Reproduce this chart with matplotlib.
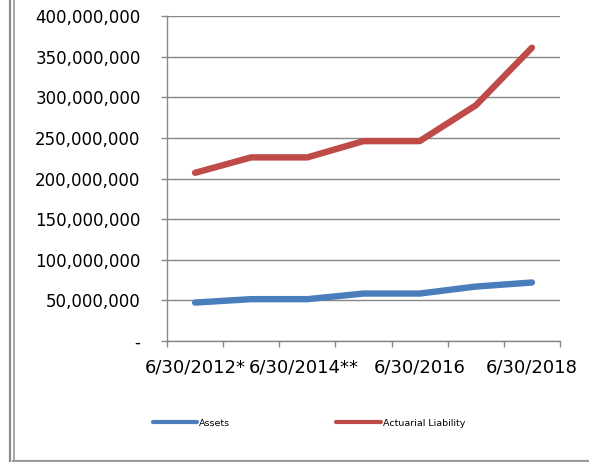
import numpy as np
import matplotlib.pyplot as plt
from matplotlib.lines import Line2D
from matplotlib.ticker import FuncFormatter
from matplotlib.transforms import ScaledTranslation

dates = ["6/30/2012*", "6/30/2013", "6/30/2014**", "6/30/2015",
         "6/30/2016", "6/30/2017", "6/30/2018"]
assets = [47_300_000, 51_500_000, 51_500_000, 58_400_000,
          58_400_000, 67_000_000, 72_000_000]
liability = [207_000_000, 226_000_000, 226_000_000, 246_000_000,
             246_000_000, 290_000_000, 361_000_000]

blue = "#4A7EBB"
red = "#BE4B48"
grey = "#878787"

fig = plt.figure(figsize=(5.89, 4.62), dpi=100)
ax = fig.add_axes([167 / 589, 1 - 341 / 462, 393 / 589, 325 / 462])

x = np.arange(len(dates))
ax.plot(x, assets, color=blue, lw=4.6, solid_capstyle="round",
        solid_joinstyle="round", label="Assets", zorder=3)
ax.plot(x, liability, color=red, lw=4.6, solid_capstyle="round",
        solid_joinstyle="round", label="Actuarial Liability", zorder=3)

ax.set_xlim(-0.5, len(dates) - 0.5)
ax.set_ylim(0, 400_000_000)
ax.set_yticks(np.arange(0, 400_000_001, 50_000_000))
ax.yaxis.set_major_formatter(
    FuncFormatter(lambda v, p: "-" if v == 0 else f"{v:,.0f}"))
ax.grid(axis="y", color=grey, lw=1.0, zorder=1)

# category boundaries get the tick marks, every other date gets a label
ax.set_xticks(np.arange(-0.5, len(dates), 1))
ax.set_xticklabels([])
ax.set_xticks(x[::2], minor=True)
ax.set_xticklabels(dates[::2], minor=True)
ax.tick_params(axis="x", which="minor", length=0, pad=12.5, labelsize=13)
ax.tick_params(axis="x", which="major", length=4.5, width=1, color=grey)
ax.tick_params(axis="y", length=4.5, width=1, color=grey, pad=14.5,
               labelsize=12)

# nudge the double-asterisk label left a touch
second = ax.xaxis.get_minorticklabels()[1]
second.set_transform(second.get_transform()
                     + ScaledTranslation(-4 / 100, 0, fig.dpi_scale_trans))

for side in ["top", "right"]:
    ax.spines[side].set_visible(False)
for side in ["left", "bottom"]:
    ax.spines[side].set_color(grey)
    ax.spines[side].set_linewidth(1.0)

ax.legend(loc="center", bbox_to_anchor=(309 / 589, 1 - 423 / 462),
          bbox_transform=fig.transFigure, ncol=2, frameon=False,
          fontsize=6.8, handlelength=4.7, handletextpad=0.25,
          columnspacing=11.2)
for h in ax.get_legend().get_lines():
    h.set_linewidth(3.0)

# frame lines around the chart area
fig.add_artist(Line2D([9.5 / 589, 9.5 / 589], [0, 1], color="#8c8c8c",
                      lw=1.6, transform=fig.transFigure))
fig.add_artist(Line2D([13.5 / 589, 13.5 / 589], [1.5 / 462, 1],
                      color="#9a9a9a", lw=1.2, transform=fig.transFigure))
fig.add_artist(Line2D([13 / 589, 1], [1.5 / 462, 1.5 / 462],
                      color="#9a9a9a", lw=1.6, transform=fig.transFigure))

fig.savefig("out.png", dpi=100)
